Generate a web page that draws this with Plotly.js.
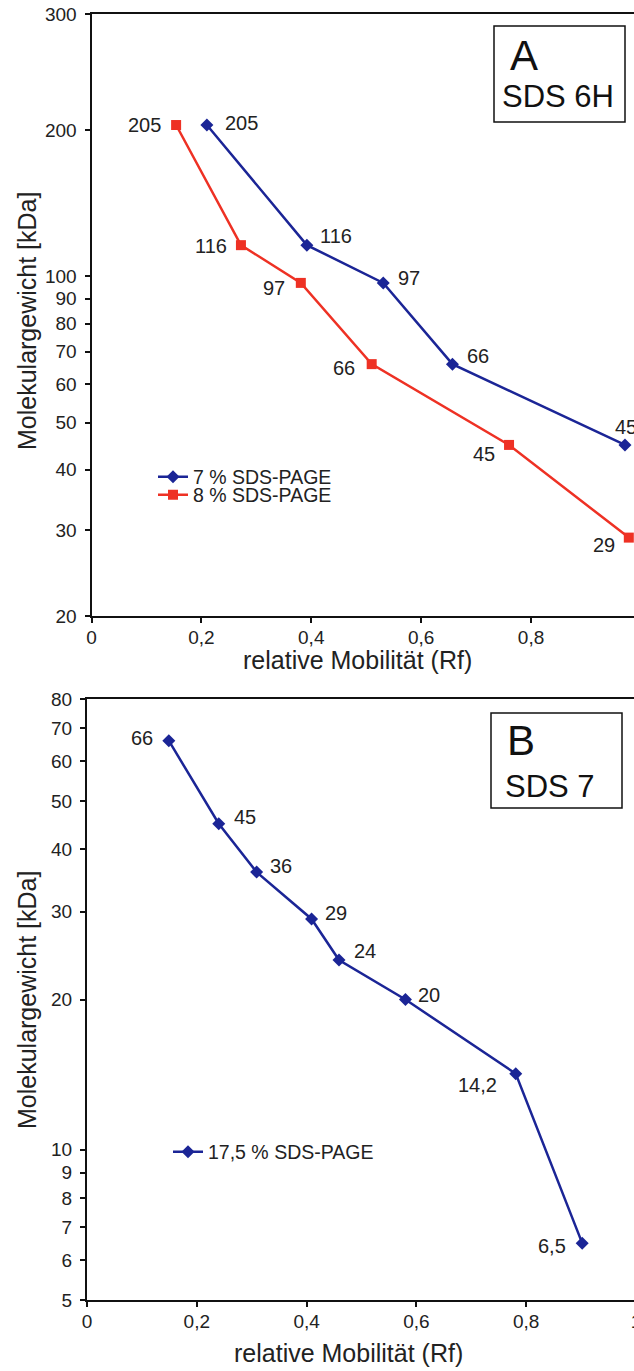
<!DOCTYPE html>
<html>
<head>
<meta charset="utf-8">
<script src="https://cdn.plot.ly/plotly-3.0.1.min.js"></script>
<style>
  html, body { margin: 0; padding: 0; background: #fff; }
  #wrap { width: 634px; height: 1371px; overflow: hidden; position: relative; }
  #chart { width: 650px; height: 1371px; }
</style>
</head>
<body>
<div id="wrap"><div id="chart"></div></div>
<script>
// ---------- DATA ----------
// Panel A (SDS 6H)
const rfA7 = [0.210, 0.392, 0.531, 0.657, 0.971];
const mwA7 = [205, 116, 97, 66, 45];
const rfA8 = [0.154, 0.272, 0.381, 0.510, 0.760, 0.978];
const mwA8 = [205, 116, 97, 66, 45, 29];
const nameA7 = '7 % SDS-PAGE';
const nameA8 = '8 % SDS-PAGE';
// Panel B (SDS 7)
const rfB = [0.149, 0.240, 0.309, 0.409, 0.459, 0.580, 0.781, 0.902];
const mwB = [66, 45, 36, 29, 24, 20, 14.2, 6.5];
const nameB = '17,5 % SDS-PAGE';
// Axis ticks
const xTickValsA = [0, 0.2, 0.4, 0.6, 0.8];
const xTickValsB = [0, 0.2, 0.4, 0.6, 0.8, 1];
const yTickValsA = [20, 30, 40, 50, 60, 70, 80, 90, 100, 200, 347];
const yTickTextA = ['20', '30', '40', '50', '60', '70', '80', '90', '100', '200', '300'];
const yRangeA = [20, 347];
const yTickValsB = [5, 6, 7, 8, 9, 10, 20, 30, 40, 50, 60, 70, 80];
const yRangeB = [5, 80];
const xTitle = 'relative Mobilität (Rf)';
const yTitle = 'Molekulargewicht [kDa]';

// ---------- STYLE (label placement offsets, px) ----------
const lblA7 = { anchor: ['left','left','left','left','left'], dx: [16, 11, 13, 13, -12], dy: [-2, -9, -5, -8, -18] };
const lblA8 = { anchor: ['right','right','right','right','right','right'], dx: [-13, -12, -14, -15, -12, -12], dy: [0, 1, 5, 4, 9, 7] };
const lblB  = { anchor: ['right','left','left','left','left','left','right','right'], dx: [-14, 13, 11, 11, 13, 11, -17, -14], dy: [-3, -7, -6, -6, -9, -5, 11, 3] };

const W = 650, H = 1371;
const px = v => v / W;
const py = v => 1 - v / H;
const BLUE = '#1b2596';
const RED = '#ee3124';
const FONT = 'Liberation Sans, Arial, sans-serif';
const fmt = v => String(v).replace('.', ',');

function traces() {
  return [
    { x: rfA7, y: mwA7, xaxis: 'x', yaxis: 'y', name: nameA7, legend: 'legend',
      mode: 'lines+markers', line: { color: BLUE, width: 2.5 },
      marker: { symbol: 'diamond', size: 10, color: BLUE }, cliponaxis: false },
    { x: rfA8, y: mwA8, xaxis: 'x', yaxis: 'y', name: nameA8, legend: 'legend2',
      mode: 'lines+markers', line: { color: RED, width: 2.5 },
      marker: { symbol: 'square', size: 10, color: RED }, cliponaxis: false },
    { x: rfB, y: mwB, xaxis: 'x2', yaxis: 'y2', name: nameB, legend: 'legend3',
      mode: 'lines+markers', line: { color: BLUE, width: 2.5 },
      marker: { symbol: 'diamond', size: 10, color: BLUE }, cliponaxis: false }
  ];
}

function pointLabels(xs, ys, lbl, xr, yr) {
  return xs.map((x, i) => ({
    x: x, y: Math.log10(ys[i]), xref: xr, yref: yr, text: fmt(ys[i]),
    showarrow: false, xanchor: lbl.anchor[i], yanchor: 'middle',
    xshift: lbl.dx[i], yshift: -lbl.dy[i],
    font: { family: FONT, size: 20, color: '#222' }
  }));
}

const tickFont = { family: FONT, size: 19, color: '#222' };
function xAxis(dom, anchor, vals) {
  return {
    domain: dom, anchor: anchor, range: [0, 1], tickvals: vals,
    ticktext: vals.map(fmt), showline: true, linecolor: '#111', linewidth: 2,
    mirror: true, ticks: 'outside', ticklen: 5, tickwidth: 2, tickcolor: '#111',
    showgrid: false, zeroline: false, tickfont: tickFont, ticklabelstandoff: -2
  };
}
function yAxis(dom, anchor, range, vals, text) {
  return {
    domain: dom, anchor: anchor, type: 'log',
    range: [Math.log10(range[0]), Math.log10(range[1])],
    tickvals: vals, ticktext: text, showline: true, linecolor: '#111', linewidth: 2,
    mirror: false, ticks: 'outside', ticklen: 5, tickwidth: 2, tickcolor: '#111',
    showgrid: false, zeroline: false, tickfont: tickFont, ticklabelstandoff: 4
  };
}
function legendAt(xp, yp) {
  return { x: px(xp), y: py(yp), xanchor: 'left', yanchor: 'middle', bgcolor: 'rgba(0,0,0,0)',
           borderwidth: 0, font: { family: FONT, size: 19.5, color: '#222' } };
}

const titleFont = { family: FONT, size: 25, color: '#222' };
const annotations = [].concat(
  pointLabels(rfA7, mwA7, lblA7, 'x', 'y'),
  pointLabels(rfA8, mwA8, lblA8, 'x', 'y'),
  pointLabels(rfB, mwB, lblB, 'x2', 'y2'),
  [
    { text: yTitle, textangle: -90, x: px(27), y: py(321), xref: 'paper', yref: 'paper', showarrow: false, font: titleFont, xanchor: 'center', yanchor: 'middle' },
    { text: yTitle, textangle: -90, x: px(27), y: py(1000), xref: 'paper', yref: 'paper', showarrow: false, font: titleFont, xanchor: 'center', yanchor: 'middle' },
    { text: xTitle, x: px(357), y: py(660), xref: 'paper', yref: 'paper', showarrow: false, font: titleFont, xanchor: 'center', yanchor: 'middle' },
    { text: xTitle, x: px(348), y: py(1353), xref: 'paper', yref: 'paper', showarrow: false, font: titleFont, xanchor: 'center', yanchor: 'middle' },
    { text: 'A', x: px(508), y: py(55), xref: 'paper', yref: 'paper', showarrow: false, font: { family: FONT, size: 42, color: '#111' }, xanchor: 'left', yanchor: 'middle' },
    { text: 'SDS 6H', x: px(500), y: py(96), xref: 'paper', yref: 'paper', showarrow: false, font: { family: FONT, size: 31, color: '#111' }, xanchor: 'left', yanchor: 'middle' },
    { text: 'B', x: px(505), y: py(740), xref: 'paper', yref: 'paper', showarrow: false, font: { family: FONT, size: 42, color: '#111' }, xanchor: 'left', yanchor: 'middle' },
    { text: 'SDS 7', x: px(503), y: py(787), xref: 'paper', yref: 'paper', showarrow: false, font: { family: FONT, size: 31, color: '#111' }, xanchor: 'left', yanchor: 'middle' }
  ]
);

const shapes = [
  { type: 'rect', xref: 'paper', yref: 'paper', x0: px(494), x1: px(625), y0: py(122), y1: py(26), line: { color: '#111', width: 1.5 } },
  { type: 'rect', xref: 'paper', yref: 'paper', x0: px(491), x1: px(622), y0: py(808), y1: py(713), line: { color: '#111', width: 1.5 } }
];

const layout = {
  width: W, height: H, margin: { l: 0, r: 0, t: 0, b: 0 },
  paper_bgcolor: '#fff', plot_bgcolor: '#fff', showlegend: true,
  font: { family: FONT, color: '#222' }, separators: ',.',
  xaxis: xAxis([px(91.5), px(640.9)], 'y', xTickValsA),
  yaxis: yAxis([py(616), py(14)], 'x', yRangeA, yTickValsA, yTickTextA),
  xaxis2: xAxis([px(87), px(636)], 'y2', xTickValsB),
  yaxis2: yAxis([py(1300), py(699)], 'x2', yRangeB, yTickValsB, yTickValsB.map(String)),
  legend: legendAt(153, 477),
  legend2: legendAt(153, 495),
  legend3: legendAt(168, 1152),
  annotations: annotations,
  shapes: shapes
};

Plotly.newPlot('chart', traces(), layout, { staticPlot: true, displayModeBar: false });
</script>
</body>
</html>
